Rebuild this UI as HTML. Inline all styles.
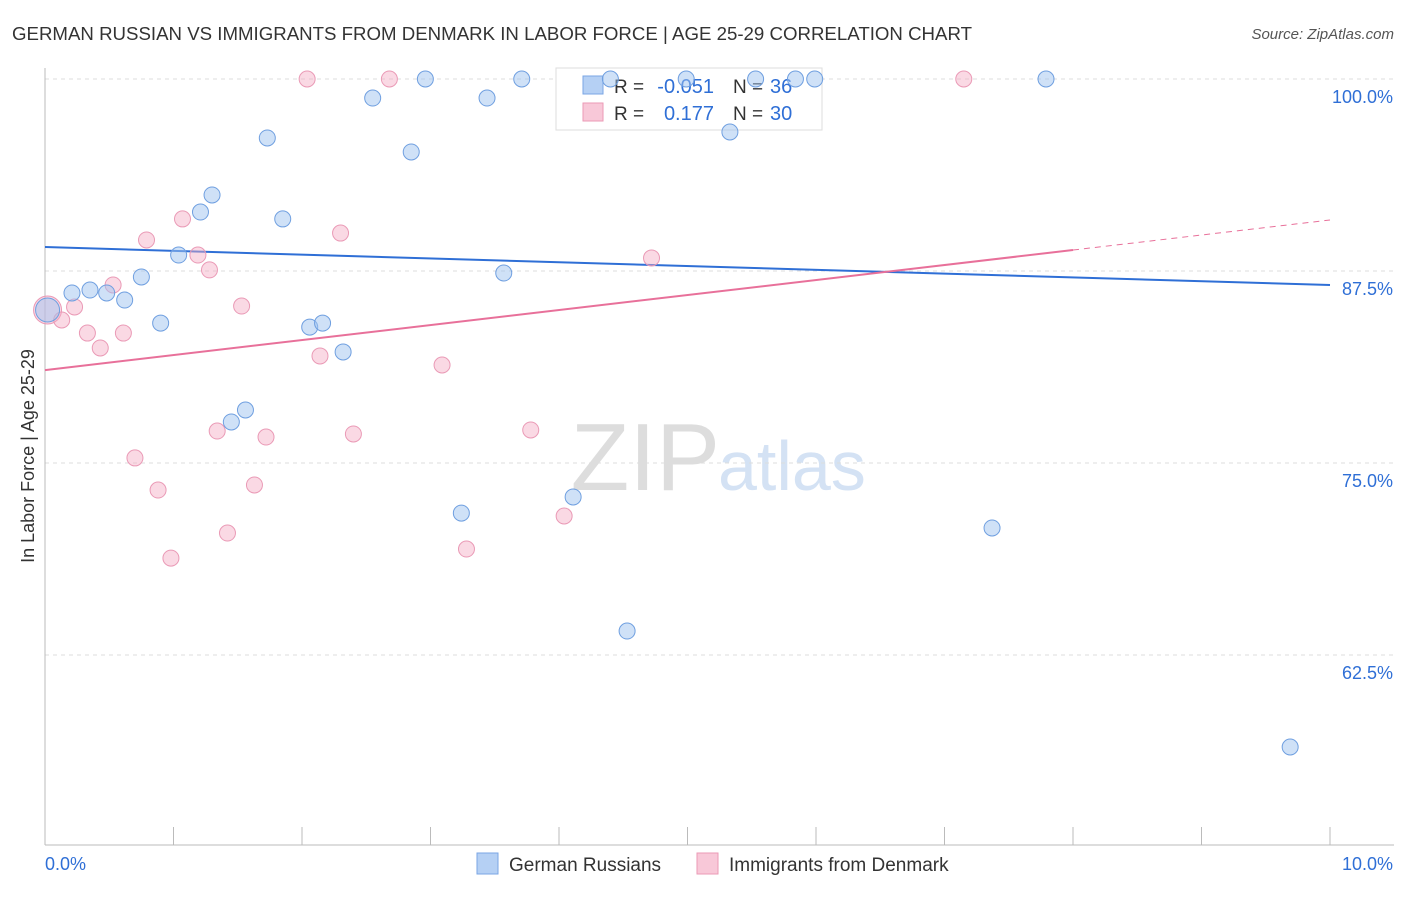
<!DOCTYPE html>
<html><head><meta charset="utf-8"><style>
body{margin:0;background:#fff;font-family:"Liberation Sans",sans-serif;}
svg text{font-family:"Liberation Sans",sans-serif;}
</style></head><body>
<svg id="chart" width="1406" height="892" xmlns="http://www.w3.org/2000/svg">
<text x="12" y="40" font-size="18" fill="#333" textLength="960" lengthAdjust="spacingAndGlyphs">GERMAN RUSSIAN VS IMMIGRANTS FROM DENMARK IN LABOR FORCE | AGE 25-29 CORRELATION CHART</text>
<text x="1394" y="39" font-size="15" fill="#555" text-anchor="end" font-style="italic">Source: ZipAtlas.com</text>
<text x="720" y="490" font-size="96" fill="#ddd" text-anchor="end" font-family="Liberation Serif">ZIP</text>
<text x="718" y="490" font-size="70" fill="#d4e2f4">atlas</text>
<text transform="translate(34,456) rotate(-90)" font-size="18" fill="#333" text-anchor="middle">In Labor Force | Age 25-29</text>
<g id="grid"></g><g id="axes"></g>
<g>
<rect x="556" y="68" width="266" height="62" fill="#fff" stroke="#ddd"/>
<rect x="583" y="76" width="20" height="18" fill="#b5d0f4" stroke="#7aa6e4"/>
<rect x="583" y="103" width="20" height="18" fill="#f8c8d8" stroke="#eb9ab6"/>
<text x="614" y="93" font-size="19" fill="#333">R =</text>
<text x="714" y="93" font-size="20" fill="#2f6fd6" text-anchor="end">-0.051</text>
<text x="733" y="93" font-size="19" fill="#333">N =</text>
<text x="770" y="93" font-size="20" fill="#2f6fd6">36</text>
<text x="614" y="120" font-size="19" fill="#333">R =</text>
<text x="714" y="120" font-size="20" fill="#2f6fd6" text-anchor="end">0.177</text>
<text x="733" y="120" font-size="19" fill="#333">N =</text>
<text x="770" y="120" font-size="20" fill="#2f6fd6">30</text>
</g>
<g id="trend"></g><g id="points"></g>
<g>
<rect x="477" y="853" width="21" height="21" fill="#b5d0f4" stroke="#7aa6e4"/>
<text x="509" y="871" font-size="19" fill="#333">German Russians</text>
<text x="729" y="871" font-size="19" fill="#333">Immigrants from Denmark</text>
<rect x="697" y="853" width="21" height="21" fill="#f8c8d8" stroke="#eb9ab6"/>
</g>
</svg>
<script>
const blueX=[0.02,0.21,0.35,0.48,0.62,0.75,0.90,1.04,1.21,1.30,1.73,1.85,2.06,2.16,2.32,1.45,1.56,2.55,2.85,2.96,3.44,3.57,3.71,3.24,4.11,4.53,4.40,4.99,5.33,5.53,5.84,5.99,7.37,7.79,9.69];
const blueY=[84.96,86.07,86.26,86.07,85.61,87.11,84.11,88.54,91.34,92.45,96.16,90.89,83.85,84.11,82.23,77.67,78.45,98.76,95.25,100,98.76,87.37,100,71.74,72.79,64.06,100,100,96.55,100,100,100,70.77,100,56.51];
const pinkX=[0.02,0.13,0.23,0.33,0.43,0.53,0.61,0.70,0.79,0.88,0.98,1.07,1.19,1.28,1.34,1.42,1.53,1.63,1.72,2.04,2.14,2.30,2.40,2.68,3.09,3.28,3.78,4.04,4.72,7.15];
const pinkY=[84.96,84.31,85.16,83.46,82.49,86.59,83.46,75.33,89.52,73.24,68.81,90.89,88.54,87.57,77.08,70.44,85.22,73.57,76.69,100,81.97,89.97,76.89,100,81.38,69.40,77.15,71.55,88.35,100];
const blueTrend=[89.06,86.59];
const pinkTrend=[81.05,90.82];
const yTicks=[100,87.5,75,62.5];
const yTickLabels=["100.0%","87.5%","75.0%","62.5%"];
const xTickLabels=["0.0%","10.0%"];
const NS="http://www.w3.org/2000/svg";
const X=v=>45+v/10*1285, Y=v=>79+(100-v)/12.5*192;
function mk(p,t,a){const e=document.createElementNS(NS,t);for(const k in a)e.setAttribute(k,a[k]);document.getElementById(p).appendChild(e);return e;}
yTicks.forEach((t,i)=>{
 const l=mk('grid','line',{x1:45,x2:1394,y1:Y(t),y2:Y(t),stroke:'#ddd','stroke-dasharray':'4,4'});
 
 
 const tx=mk('grid','text',{x:1393,y:Y(t)+24,'font-size':18,fill:'#2f6fd6','text-anchor':'end'});tx.textContent=yTickLabels[i];
 
 
});
const ax=mk('axes','line',{x1:45,x2:45,y1:68,y2:845,stroke:'#bbb'});


const bx=mk('axes','line',{x1:45,x2:1394,y1:845,y2:845,stroke:'#bbb'});


for(let i=0;i<=10;i++){const t=mk('axes','line',{x1:X(i),x2:X(i),y1:827,y2:845,stroke:'#bbb'});
 
 }
[[0,45,'start'],[10,1393,'end']].forEach((d,i)=>{const t=mk('axes','text',{x:d[1],y:870,'font-size':18,fill:'#2f6fd6','text-anchor':d[2]});t.textContent=xTickLabels[i];
 
 });
const bl=mk('trend','line',{x1:X(0),x2:X(10),y1:Y(blueTrend[0]),y2:Y(blueTrend[1]),stroke:'#2f6fd6','stroke-width':2});


const pm=pinkTrend[0]+(pinkTrend[1]-pinkTrend[0])*0.8;
const pl=mk('trend','line',{x1:X(0),x2:X(8),y1:Y(pinkTrend[0]),y2:Y(pm),stroke:'#e8709a','stroke-width':2});


const pd=mk('trend','line',{x1:X(8),x2:X(10),y1:Y(pm),y2:Y(pinkTrend[1]),stroke:'#e8709a','stroke-width':1,'stroke-dasharray':'6,5'});


pinkX.forEach((x,i)=>{const c=mk('points','circle',{cx:X(x),cy:Y(pinkY[i]),r:i==0?14:8,fill:'rgba(244,170,196,0.45)',stroke:'#ea9ab6','stroke-width':1});
 
 });
blueX.forEach((x,i)=>{const c=mk('points','circle',{cx:X(x),cy:Y(blueY[i]),r:i==0?12:8,fill:'rgba(160,196,240,0.5)',stroke:'#6f9fe0','stroke-width':1});
 
 });
</script>
</body></html>
